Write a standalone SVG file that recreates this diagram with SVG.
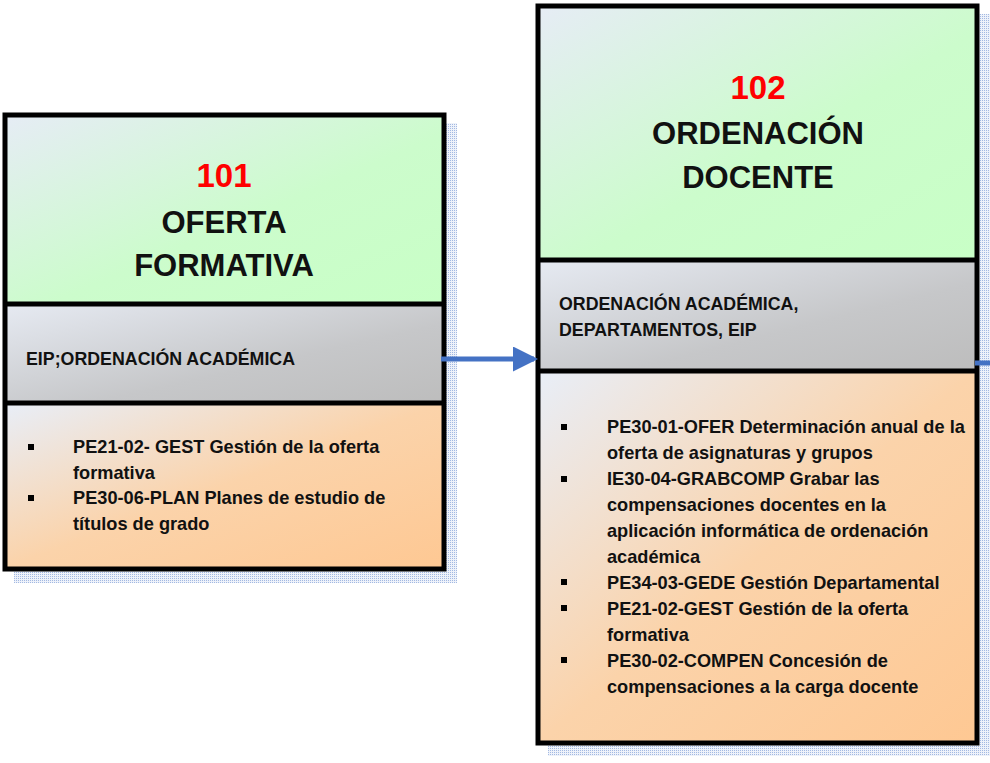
<svg xmlns="http://www.w3.org/2000/svg" width="990" height="763" viewBox="0 0 990 763">
<defs>
<linearGradient id="gGreen" x1="0" y1="0" x2="1" y2="1"><stop offset="0" stop-color="#e6ecf5"/><stop offset="0.55" stop-color="#ccfccc"/><stop offset="1" stop-color="#c8ffc6"/></linearGradient>
<linearGradient id="gGray" x1="0" y1="0" x2="1" y2="1"><stop offset="0" stop-color="#e6eaf2"/><stop offset="0.6" stop-color="#c6c7c9"/><stop offset="1" stop-color="#bdbdbd"/></linearGradient>
<linearGradient id="gOrange" x1="0" y1="0" x2="1" y2="1"><stop offset="0" stop-color="#e8eef8"/><stop offset="0.5" stop-color="#fbd3aa"/><stop offset="1" stop-color="#fec893"/></linearGradient>
<pattern id="hatch" width="2" height="2" patternUnits="userSpaceOnUse"><rect width="2" height="2" fill="#eef2fa"/><rect width="1" height="1" fill="#a3b9e2"/></pattern>
<marker id="arr" markerWidth="5" markerHeight="5" refX="4.2" refY="2.5" orient="auto" markerUnits="strokeWidth"><path d="M0,0 L5,2.5 L0,5 Z" fill="#4472c4"/></marker>
<style>
.frame{fill:none;stroke:#000;stroke-width:5}
.div{stroke:#000;stroke-width:5}
.t{font-family:"Liberation Sans",Arial,sans-serif;font-weight:bold;fill:#111}
.num{fill:#ff0000;font-size:33px;text-anchor:middle}
.title{font-size:31px;text-anchor:middle}
.sub{font-size:17.8px}
.li{font-size:18.2px}
.bul{fill:#000}
.shadow{fill:url(#hatch)}
</style>
</defs>

<g id="node-101">
<rect class="shadow" x="446" y="123" width="11" height="460"/>
<rect class="shadow" x="14" y="571" width="443" height="12"/>
<rect x="5" y="115" width="439" height="189" fill="url(#gGreen)"/>
<rect x="5" y="304" width="439" height="99" fill="url(#gGray)"/>
<rect x="5" y="403" width="439" height="165" fill="url(#gOrange)"/>
<line class="div" x1="5" y1="304" x2="444" y2="304"/>
<line class="div" x1="5" y1="403" x2="444" y2="403"/>
<rect class="frame" x="5" y="115" width="439" height="454"/>
<text class="t num" x="224" y="187">101</text>
<text class="t title" x="224" y="233">OFERTA</text>
<text class="t title" x="224" y="276">FORMATIVA</text>
<text class="t sub" x="26" y="365">EIP;ORDENACIÓN ACADÉMICA</text>
<rect class="bul" x="28" y="444" width="6" height="6"/>
<text class="t li" x="73" y="453">PE21-02- GEST Gestión de la oferta</text>
<text class="t li" x="73" y="479">formativa</text>
<rect class="bul" x="28" y="495" width="6" height="6"/>
<text class="t li" x="73" y="504">PE30-06-PLAN Planes de estudio de</text>
<text class="t li" x="73" y="530">títulos de grado</text>
</g>

<g id="node-102">
<rect class="shadow" x="978" y="14" width="12" height="742"/>
<rect class="shadow" x="548" y="744" width="442" height="12"/>
<rect x="538" y="6" width="439" height="254" fill="url(#gGreen)"/>
<rect x="538" y="260" width="439" height="111" fill="url(#gGray)"/>
<rect x="538" y="371" width="439" height="372" fill="url(#gOrange)"/>
<line class="div" x1="538" y1="260" x2="977" y2="260"/>
<line class="div" x1="538" y1="371" x2="977" y2="371"/>
<rect class="frame" x="538" y="6" width="439" height="737"/>
<text class="t num" x="758" y="99">102</text>
<text class="t title" x="758" y="144">ORDENACIÓN</text>
<text class="t title" x="758" y="188">DOCENTE</text>
<text class="t sub" x="559" y="310">ORDENACIÓN ACADÉMICA,</text>
<text class="t sub" x="559" y="336">DEPARTAMENTOS, EIP</text>
<rect class="bul" x="561" y="424" width="6" height="6"/>
<text class="t li" x="607" y="433">PE30-01-OFER Determinación anual de la</text>
<text class="t li" x="607" y="459">oferta de asignaturas y grupos</text>
<rect class="bul" x="561" y="476" width="6" height="6"/>
<text class="t li" x="607" y="485">IE30-04-GRABCOMP Grabar las</text>
<text class="t li" x="607" y="511">compensaciones docentes en la</text>
<text class="t li" x="607" y="537">aplicación informática de ordenación</text>
<text class="t li" x="607" y="563">académica</text>
<rect class="bul" x="561" y="579" width="6" height="6"/>
<text class="t li" x="607" y="589">PE34-03-GEDE Gestión Departamental</text>
<rect class="bul" x="561" y="605" width="6" height="6"/>
<text class="t li" x="607" y="615">PE21-02-GEST Gestión de la oferta</text>
<text class="t li" x="607" y="641">formativa</text>
<rect class="bul" x="561" y="657" width="6" height="6"/>
<text class="t li" x="607" y="667">PE30-02-COMPEN Concesión de</text>
<text class="t li" x="607" y="693">compensaciones a la carga docente</text>
</g>

<g id="connectors">
<line x1="441" y1="359" x2="534" y2="359" stroke="#4472c4" stroke-width="5" marker-end="url(#arr)"/>
<line x1="975" y1="363" x2="990" y2="363" stroke="#4472c4" stroke-width="5"/>
</g>
</svg>
